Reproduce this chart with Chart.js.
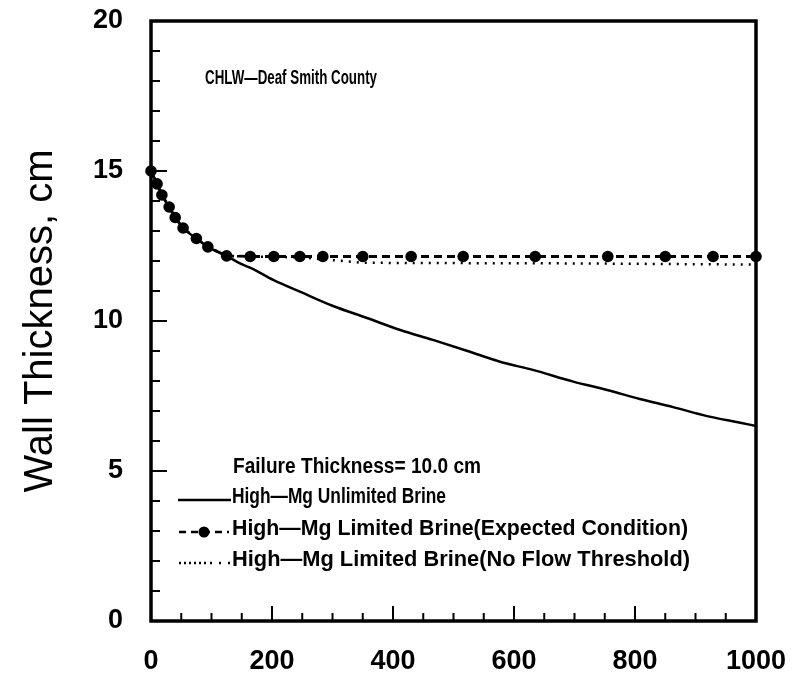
<!DOCTYPE html>
<html><head><meta charset="utf-8">
<script src="https://cdn.jsdelivr.net/npm/chart.js@4.4.0/dist/chart.umd.min.js"></script>
<style>html,body{margin:0;padding:0;background:#fff;}#wrap{width:793px;height:682px;}</style>
</head><body><div id="wrap"><canvas id="c" width="793" height="682"></canvas></div>
<script>
const xTickLabels = [0, 200, 400, 600, 800, 1000];
const yTickLabels = [0, 5, 10, 15, 20];
const unlimitedX = [0,10,18,30,40,53,75,94,125,147,169,202,246,301,357,412,466,522,577,631,698,754,808,863,919,974,1000];
const unlimitedY = [15,14.57,14.2,13.8,13.45,13.1,12.75,12.47,12.17,11.92,11.73,11.37,10.98,10.5,10.1,9.7,9.37,9.01,8.64,8.37,7.98,7.7,7.4,7.13,6.83,6.61,6.5];
const expectedX = [0,10,18,30,40,53,75,94,125,164,203,246,284,350,430,516,635,755,850,929,1000];
const expectedY = [15,14.57,14.2,13.8,13.45,13.1,12.75,12.47,12.17,12.15,12.15,12.15,12.15,12.15,12.15,12.15,12.15,12.15,12.15,12.15,12.15];
const noFlowX = [0,10,18,30,40,53,75,94,125,164,250,300,350,500,700,1000];
const noFlowY = [15,14.57,14.2,13.8,13.45,13.1,12.75,12.47,12.17,12.15,12.12,12.03,11.94,11.93,11.92,11.88];
const seriesNames = ['High\u2014Mg Unlimited Brine','High\u2014Mg Limited Brine(Expected Condition)','High\u2014Mg Limited Brine(No Flow Threshold)'];
const plotTitle = 'CHLW\u2014Deaf Smith County';
const failureNote = 'Failure Thickness= 10.0 cm';

const pts = (xs, ys) => xs.map((x, i) => ({x: x, y: ys[i]}));
const FONT = '"Liberation Sans", Arial, sans-serif';

const framePlugin = {
  id: 'frame',
  beforeDatasetsDraw(chart) {
    const ctx = chart.ctx, a = chart.chartArea;
    const xs = chart.scales.x, ys = chart.scales.y;
    ctx.save();
    ctx.strokeStyle = '#000';
    ctx.lineWidth = 2;
    for (let v = 1; v < 20; v++) {
      const y = ys.getPixelForValue(v);
      const len = v % 5 === 0 ? 16 : 9;
      ctx.beginPath(); ctx.moveTo(a.left, y); ctx.lineTo(a.left + len, y); ctx.stroke();
    }
    for (let v = 50; v < 1000; v += 50) {
      const x = xs.getPixelForValue(v);
      const len = v % 200 === 0 ? 15 : 8;
      ctx.beginPath(); ctx.moveTo(x, a.bottom); ctx.lineTo(x, a.bottom - len); ctx.stroke();
    }
    ctx.lineWidth = 3.5;
    ctx.strokeRect(a.left, a.top, a.right - a.left, a.bottom - a.top);
    ctx.restore();
  },
  afterDraw(chart) {
    const ctx = chart.ctx;
    ctx.save();
    ctx.fillStyle = '#000';
    ctx.strokeStyle = '#000';
    ctx.textBaseline = 'alphabetic';
    ctx.textAlign = 'left';
    ctx.font = 'bold 20px ' + FONT;
    ctx.fillText(plotTitle, 205, 84, 172);
    ctx.font = 'bold 22px ' + FONT;
    ctx.fillText(failureNote, 233, 473, 248);
    ctx.fillText(seriesNames[0], 232, 503, 214);
    ctx.fillText(seriesNames[1], 232, 535, 456);
    ctx.fillText(seriesNames[2], 232, 566, 458);
    // legend samples
    ctx.lineWidth = 2.5;
    ctx.setLineDash([]);
    ctx.beginPath(); ctx.moveTo(178, 500); ctx.lineTo(231, 500); ctx.stroke();
    ctx.setLineDash([7, 5]);
    ctx.beginPath(); ctx.moveTo(179, 532); ctx.lineTo(229, 532); ctx.stroke();
    ctx.setLineDash([]);
    ctx.beginPath(); ctx.arc(204, 532, 5.5, 0, Math.PI * 2); ctx.fill();
    ctx.lineWidth = 2.5;
    ctx.setLineDash([2, 3]);
    ctx.beginPath(); ctx.moveTo(179, 563); ctx.lineTo(207, 563); ctx.stroke();
    ctx.setLineDash([2, 7]);
    ctx.beginPath(); ctx.moveTo(210, 563); ctx.lineTo(230, 563); ctx.stroke();
    ctx.restore();
  }
};

new Chart(document.getElementById('c'), {
  type: 'line',
  data: {
    datasets: [
      { label: seriesNames[0], data: pts(unlimitedX, unlimitedY), borderColor: '#000', borderWidth: 2.5, pointRadius: 0, cubicInterpolationMode: 'monotone', fill: false },
      { label: seriesNames[1], data: pts(expectedX, expectedY), borderColor: '#000', backgroundColor: '#000', borderWidth: 2.8, borderDash: [8, 5], pointRadius: 5.8, pointBackgroundColor: '#000', pointBorderColor: '#000', pointBorderWidth: 0, tension: 0, fill: false, clip: false },
      { label: seriesNames[2], data: pts(noFlowX, noFlowY), borderColor: '#000', borderWidth: 2.5, borderDash: [2, 6], pointRadius: 0, tension: 0, fill: false }
    ]
  },
  options: {
    responsive: false,
    animation: false,
    layout: { padding: { top: 21, right: 37, left: 0, bottom: 0 } },
    plugins: { legend: { display: false }, tooltip: { enabled: false } },
    scales: {
      x: {
        type: 'linear', min: 0, max: 1000,
        afterBuildTicks(s) { s.ticks = xTickLabels.map(v => ({ value: v })); },
        ticks: { autoSkip: false, maxRotation: 0, padding: 24, color: '#000', font: { family: FONT, size: 27, weight: 'bold' }, callback: v => String(v) },
        grid: { display: false, drawTicks: false },
        border: { display: false },
        afterFit(s) { s.height = 61; s.paddingLeft = 0; s.paddingRight = 0; }
      },
      y: {
        min: 0, max: 20,
        afterBuildTicks(s) { s.ticks = yTickLabels.map(v => ({ value: v })); },
        ticks: { padding: 28, color: '#000', font: { family: FONT, size: 27, weight: 'bold' }, callback: v => String(v) },
        grid: { display: false, drawTicks: false },
        border: { display: false },
        title: { display: true, text: 'Wall Thickness, cm', color: '#000', font: { family: FONT, size: 40, weight: 'normal' }, padding: { top: 17, bottom: 0 } },
        afterFit(s) { s.width = 151; s.paddingTop = 0; s.paddingBottom = 0; }
      }
    }
  },
  plugins: [framePlugin]
});
</script></body></html>
